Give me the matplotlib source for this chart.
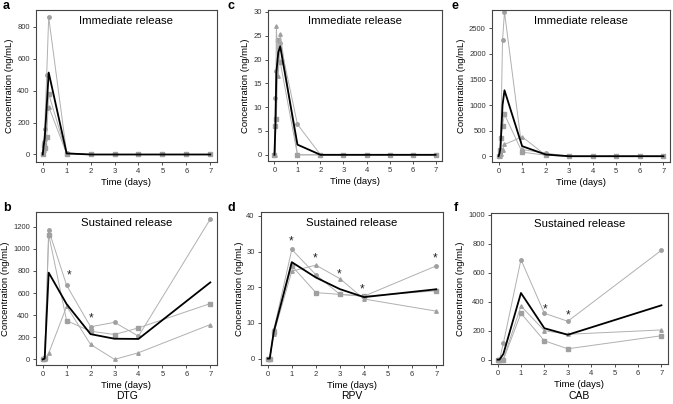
import matplotlib
matplotlib.use("Agg")
import matplotlib.pyplot as plt
import numpy as np

plt.rcParams["font.family"] = ["Liberation Sans", "DejaVu Sans"]

# Sampling times (days)
t_ir = [0, 0.042, 0.083, 0.167, 0.25, 1, 2, 3, 4, 5, 6, 7]
t_sr = [0, 0.042, 0.083, 0.25, 1, 2, 3, 4, 7]
t_sr_cab = [0, 0.042, 0.083, 0.25, 1, 2, 3, 7]

# Individual animals: circle, square, triangle
dtg_ir = [
    [0, 80, 160, 500, 860, 10, 0, 0, 0, 0, 0, 0],
    [0, 60, 40, 110, 380, 5, 0, 0, 0, 0, 0, 0],
    [0, 30, 100, 290, 300, 5, 0, 0, 0, 0, 0, 0],
]
dtg_sr = [
    [0, 5, 10, 1170, 670, 295, 335, 210, 1270],
    [0, 5, 10, 1130, 350, 255, 225, 285, 505],
    [0, 0, 5, 55, 480, 135, 0, 60, 315],
]
rpv_ir = [
    [0, 12, 17.5, 24, 23.5, 6.4, 0, 0, 0, 0, 0, 0],
    [0, 6, 7.5, 24, 19.5, 0, 0, 0, 0, 0, 0, 0],
    [0, 0, 27, 16.5, 25.3, 0, 0, 0, 0, 0, 0, 0],
]
rpv_sr = [
    [0, 0, 0, 8, 30.6, 23.5, 18, 17.5, 26],
    [0, 0, 0, 7.5, 26, 18.5, 18, 17.5, 19],
    [0, 0, 0, 7, 24.5, 26.2, 22.4, 16.7, 13.3],
]
cab_ir = [
    [0, 60, 130, 2270, 2820, 130, 60, 0, 0, 0, 0, 0],
    [0, 120, 350, 600, 820, 80, 20, 0, 0, 0, 0, 0],
    [0, 10, 40, 120, 230, 380, 20, 0, 0, 0, 0, 0],
]
cab_sr = [
    [0, 0, 0, 115, 690, 320, 265, 755],
    [0, 0, 0, 0, 320, 130, 75, 165],
    [0, 0, 0, 5, 370, 200, 175, 205],
]

# significance stars (x, y)
stars_dtg = [(1.1, 760), (2.0, 370)]
stars_rpv = [(0.97, 32.8), (1.97, 28), (2.97, 23.5), (3.92, 19.5), (6.95, 28)]
stars_cab = [(2.05, 345), (3.0, 305)]

markers = ["o", "s", "^"]

# (letter, times, series, ylim, yticks, title, stars, rect in px [l, t, r, b], letter pos px)
panels = [
    ("a", t_ir, dtg_ir, (-47, 905), [0, 200, 400, 600, 800], "Immediate release", [], (36, 10, 217, 162), (3, 6)),
    ("c", t_ir, rpv_ir, (-1.3, 30.4), [0, 5, 10, 15, 20, 25, 30], "Immediate release", [], (268, 10, 442, 161), (227, 6)),
    ("e", t_ir, cab_ir, (-113, 2860), [0, 500, 1000, 1500, 2000, 2500], "Immediate release", [], (492, 10, 670, 162), (452, 6)),
    ("b", t_sr, dtg_sr, (-51, 1334), [0, 200, 400, 600, 800, 1000, 1200], "Sustained release", stars_dtg, (36, 212, 217, 365), (3, 208)),
    ("d", t_sr, rpv_sr, (-1.8, 41.1), [0, 10, 20, 30, 40], "Sustained release", stars_rpv, (261, 212, 443, 365), (227, 208)),
    ("f", t_sr_cab, cab_sr, (-30, 1012), [0, 200, 400, 600, 800, 1000], "Sustained release", stars_cab, (491, 213, 668, 364), (454, 208)),
]
drugs = [("DTG", 127), ("RPV", 352), ("CAB", 579)]

W, H = 673, 404
fig = plt.figure(figsize=(W / 100, H / 100), dpi=100)

for letter, t, series, ylim, yticks, title, stars, (l, tp, r, b), (lx, ly) in panels:
    ax = fig.add_axes([l / W, 1 - b / H, (r - l) / W, (b - tp) / H])
    for s, m in zip(series, markers):
        ax.plot(t, s, color="#b0b0b0", lw=0.7, marker=m, ms=2.5,
                mfc="#a0a0a0", mec="#a0a0a0", zorder=2)
    ax.plot(t, np.mean(series, axis=0), color="black", lw=1.3, zorder=3)
    for sx, sy in stars:
        ax.text(sx, sy, "*", ha="center", va="center", fontsize=8.5, color="#222222")
    ax.set_xlim(-0.28, 7.28)
    ax.set_ylim(*ylim)
    ax.set_xticks(range(8))
    ax.set_yticks(yticks)
    ax.tick_params(labelsize=5.5, length=2.5, width=0.6, pad=2, colors="#333333")
    for sp in ax.spines.values():
        sp.set_linewidth(0.8)
        sp.set_color("#444444")
    ax.set_xlabel("Time (days)", fontsize=6.8, labelpad=2)
    ax.set_ylabel("Concentration (ng/mL)", fontsize=6.8, labelpad=2)
    ax.text(0.5, 0.93, title, transform=ax.transAxes, ha="center", va="center", fontsize=8.2)
    fig.text(lx / W, 1 - ly / H, letter, fontsize=9, fontweight="bold", ha="left", va="center")

for name, x in drugs:
    fig.text(x / W, 1 - 396 / H, name, ha="center", va="center", fontsize=7.5)

fig.savefig("out.png", dpi=100)
